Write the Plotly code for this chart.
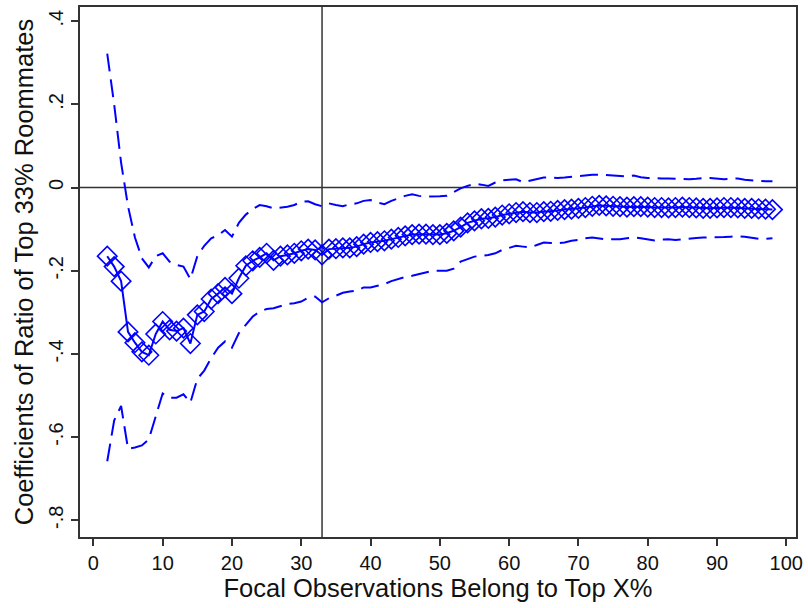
import plotly.graph_objects as go

# ---- data ----
x_top = list(range(2, 99))

coef = [-0.165, -0.19, -0.225, -0.347, -0.373, -0.395, -0.403, -0.352, -0.322, -0.342,
        -0.345, -0.338, -0.375, -0.306, -0.298, -0.268, -0.255, -0.24, -0.255, -0.218,
        -0.188, -0.176, -0.168, -0.158, -0.175, -0.165, -0.162, -0.158, -0.152, -0.148,
        -0.15, -0.162, -0.148, -0.147, -0.145, -0.145, -0.142, -0.136, -0.132, -0.13,
        -0.128, -0.124, -0.12, -0.116, -0.113, -0.112, -0.112, -0.113, -0.113, -0.11,
        -0.104, -0.095, -0.085, -0.08, -0.075, -0.074, -0.071, -0.066, -0.063, -0.06,
        -0.058, -0.06, -0.06, -0.058, -0.057, -0.055, -0.053, -0.052, -0.05, -0.048,
        -0.045, -0.043, -0.044, -0.045, -0.046, -0.047, -0.046, -0.046, -0.047, -0.048,
        -0.048, -0.049, -0.048, -0.047, -0.048, -0.049, -0.05, -0.05, -0.049, -0.048,
        -0.048, -0.049, -0.05, -0.05, -0.051, -0.052, -0.053]

upper = [0.322, 0.2, 0.06, -0.045, -0.12, -0.17, -0.192, -0.165, -0.158, -0.178,
         -0.186, -0.19, -0.22, -0.165, -0.14, -0.122, -0.115, -0.102, -0.118, -0.085,
         -0.065, -0.052, -0.042, -0.045, -0.05, -0.048, -0.046, -0.042, -0.034, -0.033,
         -0.04, -0.045, -0.038, -0.042, -0.045, -0.04, -0.038, -0.032, -0.03, -0.036,
         -0.04, -0.032, -0.026, -0.02, -0.016, -0.02, -0.022, -0.022, -0.021, -0.02,
         -0.01, -0.002, 0.004, 0.009, 0.007, 0.004, 0.012, 0.017, 0.019, 0.02,
         0.013, 0.017, 0.02, 0.024, 0.024, 0.023, 0.024, 0.026, 0.027, 0.03,
         0.031, 0.031, 0.03, 0.029, 0.028, 0.027, 0.029, 0.025, 0.023, 0.022,
         0.022, 0.022, 0.021, 0.021, 0.02, 0.021, 0.023, 0.023, 0.022, 0.02,
         0.021, 0.022, 0.019, 0.017, 0.016, 0.015, 0.015]

lower = [-0.658, -0.56, -0.525, -0.628, -0.625, -0.62, -0.605, -0.55, -0.495, -0.505,
         -0.505, -0.497, -0.517, -0.46, -0.44, -0.41, -0.385, -0.37, -0.385, -0.35,
         -0.33, -0.31, -0.298, -0.292, -0.29, -0.285, -0.28, -0.278, -0.274, -0.265,
         -0.262, -0.276, -0.266, -0.26, -0.253, -0.25, -0.248, -0.24, -0.24, -0.236,
         -0.232, -0.225, -0.22, -0.215, -0.212, -0.208, -0.204, -0.2, -0.2, -0.2,
         -0.195, -0.178, -0.172, -0.166, -0.164, -0.162, -0.158, -0.15, -0.145, -0.14,
         -0.142, -0.144, -0.138, -0.132, -0.133, -0.134, -0.132, -0.128, -0.126, -0.122,
         -0.12, -0.122, -0.125, -0.124, -0.124, -0.122, -0.12, -0.122, -0.125, -0.127,
         -0.125, -0.124, -0.126, -0.124, -0.122, -0.121, -0.12, -0.12, -0.12, -0.119,
         -0.118, -0.117, -0.118, -0.12, -0.123, -0.123, -0.122]

x_ticks = [0, 10, 20, 30, 40, 50, 60, 70, 80, 90, 100]
y_ticks = [-0.8, -0.6, -0.4, -0.2, 0, 0.2, 0.4]
y_ticktext = ["-.8", "-.6", "-.4", "-.2", "0", ".2", ".4"]
ref_x = 33
ref_y = 0

x_title = "Focal Observations Belong to Top X%"
y_title = "Coefficients of Ratio of Top 33% Roommates"

BLUE = "#0000FF"
FONT = "Liberation Sans, Arial, sans-serif"

fig = go.Figure()
fig.add_trace(go.Scatter(x=x_top, y=upper, mode="lines",
                         line=dict(color=BLUE, width=2, dash="18px,8px"), showlegend=False))
fig.add_trace(go.Scatter(x=x_top, y=lower, mode="lines",
                         line=dict(color=BLUE, width=2, dash="18px,8px"), showlegend=False))
fig.add_trace(go.Scatter(x=x_top, y=coef, mode="lines+markers",
                         line=dict(color=BLUE, width=2),
                         marker=dict(symbol="diamond-open", size=15, color=BLUE,
                                     line=dict(color=BLUE, width=1.6)),
                         showlegend=False))

fig.add_hline(y=ref_y, line=dict(color="#333333", width=1.5), layer="below")
fig.add_vline(x=ref_x, line=dict(color="#333333", width=1.5), layer="below")

fig.update_layout(
    width=808, height=608,
    margin=dict(l=80, r=5, t=7, b=71),
    paper_bgcolor="white", plot_bgcolor="white",
    font=dict(family=FONT, color="#111111", size=20),
    xaxis=dict(range=[-1.93, 101.4], tickvals=x_ticks, ticks="outside", ticklen=7,
               tickcolor="#333333", tickwidth=1.5, showline=True, mirror=True,
               linecolor="#333333", linewidth=2, showgrid=False, zeroline=False,
               tickfont=dict(size=20),
               title=dict(text=x_title, font=dict(size=25.5), standoff=0)),
    yaxis=dict(range=[-0.84, 0.434], tickvals=y_ticks, ticktext=y_ticktext,
               tickangle=-90, ticks="outside", ticklen=7,
               tickcolor="#333333", tickwidth=1.5, showline=True, mirror=True,
               linecolor="#333333", linewidth=2, showgrid=False, zeroline=False,
               tickfont=dict(size=20),
               title=dict(text=y_title, font=dict(size=25.5), standoff=4)),
)

fig.write_html("out.html")
